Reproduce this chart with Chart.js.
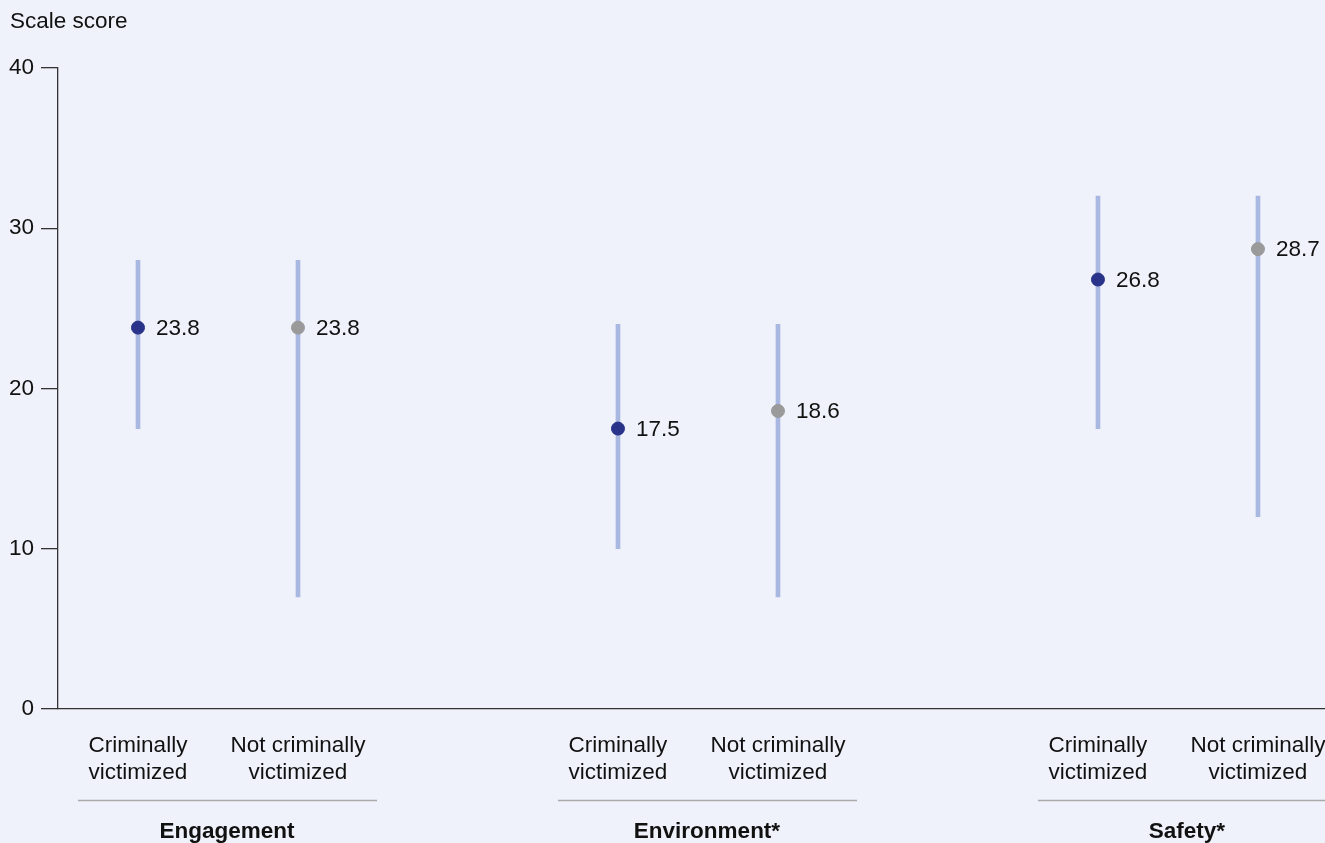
<!DOCTYPE html>
<html>
<head>
<meta charset="utf-8">
<script src="https://cdn.jsdelivr.net/npm/chart.js@4"></script>
<style>
  html, body { margin: 0; padding: 0; background: #eff2fa; }
  canvas { display: block; }
</style>
</head>
<body>
<canvas id="chart" width="1325" height="843"></canvas>
<script>
// Scale scores by victimization status, grouped by school climate scale
const groups = ['Engagement', 'Environment*', 'Safety*'];
const statuses = [['Criminally', 'victimized'], ['Not criminally', 'victimized']];
const scores = [23.8, 23.8, 17.5, 18.6, 26.8, 28.7];
const rangeLow = [17.5, 7, 10, 7, 17.5, 12];
const rangeHigh = [28, 28, 24, 24, 32, 32];
const yTicks = [0, 10, 20, 30, 40];

const FONT = '"Liberation Sans", Arial, Helvetica, sans-serif';
const SIZE = 22.5;
const TEXT = '#111111';
const NAVY = '#29338a';
const GREY = '#9a9a9a';
const RANGE = '#a9b8e1';

// x position of each mark: groups are separated by one empty slot
const xPos = scores.map((_, i) => 1 + Math.floor(i / 2) * 3 + (i % 2));

const rangeData = scores.map((_, i) => ({ x: xPos[i], y: [rangeLow[i], rangeHigh[i]] }));
const pointData = scores.map((v, i) => ({ x: xPos[i], y: v }));
const pointColors = scores.map((_, i) => (i % 2 === 0 ? NAVY : GREY));

const background = {
  id: 'background',
  beforeDraw(chart) {
    const c = chart.ctx;
    c.save();
    c.fillStyle = '#eff2fa';
    c.fillRect(0, 0, chart.width, chart.height);
    c.restore();
  }
};

const annotations = {
  id: 'annotations',
  afterDatasetsDraw(chart) {
    const c = chart.ctx;
    const xs = chart.scales.x;
    const ys = chart.scales.y;
    c.save();
    // value labels beside each point
    c.font = SIZE + 'px ' + FONT;
    c.fillStyle = TEXT;
    c.textAlign = 'left';
    c.textBaseline = 'middle';
    scores.forEach((v, i) => {
      c.fillText(v.toFixed(1), xs.getPixelForValue(xPos[i]) + 18, ys.getPixelForValue(v) + 1);
    });
    // axis title
    c.fillText('Scale score', 10, 22);
    // group rules and names under the category labels
    groups.forEach((g, k) => {
      const first = xs.getPixelForValue(xPos[k * 2]);
      const second = xs.getPixelForValue(xPos[k * 2 + 1]);
      c.strokeStyle = '#aaaaaa';
      c.lineWidth = 1.5;
      c.beginPath();
      c.moveTo(first - 60, 800.5);
      c.lineTo(second + 79, 800.5);
      c.stroke();
      c.font = 'bold ' + SIZE + 'px ' + FONT;
      c.textAlign = 'center';
      c.fillStyle = TEXT;
      c.fillText(g, first + 89, 832);
    });
    c.restore();
  }
};

new Chart(document.getElementById('chart'), {
  data: {
    datasets: [
      {
        type: 'bar',
        data: rangeData,
        backgroundColor: RANGE,
        borderWidth: 0,
        barThickness: 4,
        order: 2
      },
      {
        type: 'scatter',
        data: pointData,
        pointRadius: 6.5,
        pointBackgroundColor: pointColors,
        pointBorderColor: pointColors,
        pointBorderWidth: 1,
        clip: false,
        order: 1
      }
    ]
  },
  options: {
    responsive: false,
    animation: false,
    layout: { autoPadding: false, padding: { top: 68, left: 0, right: 0, bottom: 0 } },
    plugins: { legend: { display: false }, tooltip: { enabled: false } },
    scales: {
      x: {
        type: 'linear',
        offset: false,
        min: 0.5,
        max: 8.419,
        afterBuildTicks(scale) {
          scale.ticks = xPos.map(v => ({ value: v }));
        },
        afterFit(scale) {
          scale.height = 134;
          scale.paddingLeft = 0;
          scale.paddingRight = 0;
        },
        grid: { display: true, offset: false, drawOnChartArea: false, drawTicks: false },
        border: { display: true, color: '#333333', width: 1.3 },
        ticks: {
          autoSkip: false,
          maxRotation: 0,
          minRotation: 0,
          padding: 23,
          color: TEXT,
          font: { family: FONT, size: SIZE, lineHeight: 1.2 },
          callback(value) {
            const i = xPos.indexOf(value);
            return i >= 0 ? statuses[i % 2] : '';
          }
        }
      },
      y: {
        type: 'linear',
        min: 0,
        max: 40,
        afterBuildTicks(scale) {
          scale.ticks = yTicks.map(v => ({ value: v }));
        },
        afterFit(scale) {
          scale.width = 58;
          scale.paddingTop = 0;
          scale.paddingBottom = 0;
        },
        grid: { drawOnChartArea: false, drawTicks: true, tickLength: 17, color: '#333333', lineWidth: 1.3 },
        border: { display: true, color: '#333333', width: 1.3 },
        ticks: {
          padding: 7,
          color: TEXT,
          font: { family: FONT, size: SIZE }
        }
      }
    }
  },
  plugins: [background, annotations]
});
</script>
</body>
</html>
